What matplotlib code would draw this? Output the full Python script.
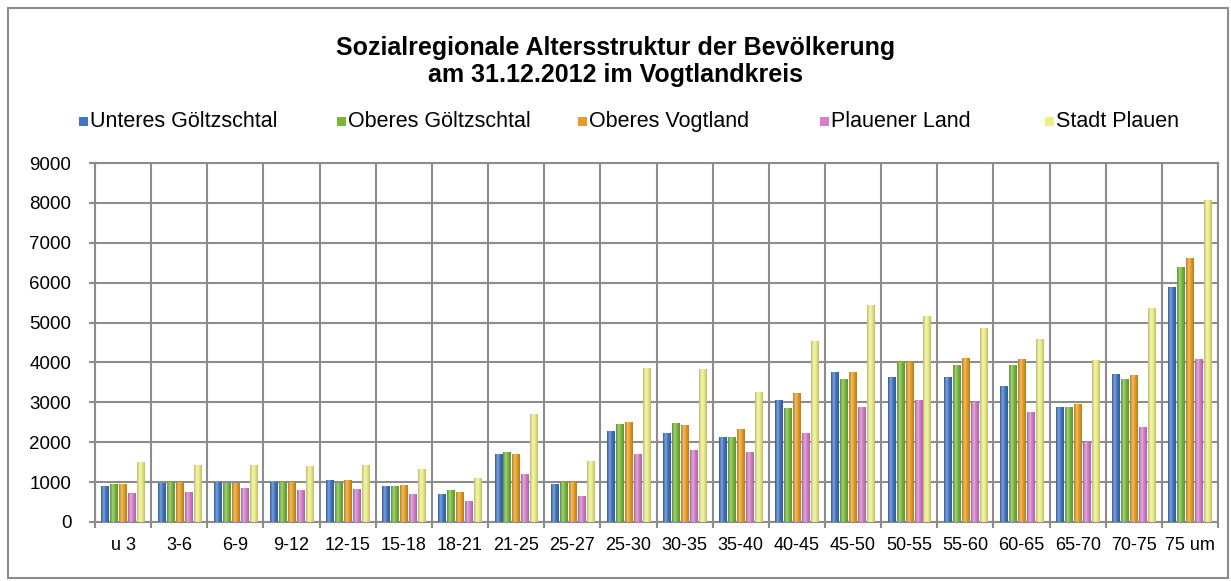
import numpy as np
import matplotlib
matplotlib.use("Agg")
import matplotlib.pyplot as plt
from matplotlib.patches import Rectangle
from matplotlib.colors import to_rgb, LinearSegmentedColormap

plt.rcParams['font.family'] = ['Liberation Sans', 'DejaVu Sans']

# Altersgruppen
groups = ["u 3", "3-6", "6-9", "9-12", "12-15", "15-18", "18-21", "21-25", "25-27",
          "25-30", "30-35", "35-40", "40-45", "45-50", "50-55", "55-60", "60-65",
          "65-70", "70-75", "75 um"]

# Regionen
regions = ["Unteres Göltzschtal", "Oberes Göltzschtal", "Oberes Vogtland",
           "Plauener Land", "Stadt Plauen"]

unteres_goeltzschtal = [900, 960, 980, 990, 1050, 900, 700, 1700, 930, 2270,
                        2210, 2130, 3040, 3740, 3630, 3630, 3400, 2880, 3710, 5890]
oberes_goeltzschtal = [930, 1000, 960, 990, 960, 900, 800, 1730, 1000, 2440,
                       2460, 2130, 2840, 3560, 3990, 3920, 3920, 2880, 3570, 6380]
oberes_vogtland = [930, 990, 960, 1000, 1050, 920, 750, 1690, 1000, 2500,
                   2420, 2310, 3230, 3760, 3990, 4100, 4070, 2940, 3670, 6610]
plauener_land = [720, 750, 840, 790, 810, 680, 520, 1180, 640, 1680,
                 1790, 1740, 2210, 2860, 3040, 2990, 2740, 2000, 2380, 4080]
stadt_plauen = [1480, 1420, 1420, 1390, 1420, 1310, 1100, 2690, 1520, 3860,
                3820, 3250, 4520, 5440, 5160, 4840, 4570, 4050, 5350, 8070]

series = [unteres_goeltzschtal, oberes_goeltzschtal, oberes_vogtland,
          plauener_land, stadt_plauen]
colors = ["#3f75c2", "#77b83c", "#e79d22", "#d67ec9", "#eeee88"]
GRID = "#8c8c8c"


def cylinder_cmap(col):
    # dark edge -> light highlight -> dark edge, like the Excel 3D bars
    c = np.array(to_rgb(col))
    dark = c * 0.8
    light = c + (1 - c) * 0.35
    return LinearSegmentedColormap.from_list(
        "cyl", [(0, dark), (0.35, light), (0.6, c), (1, dark)])


fig = plt.figure(figsize=(12.31, 5.81), dpi=100)
fig.patch.set_facecolor("white")

# outer chart border
fig.patches.append(Rectangle((8 / 1231, 3 / 581), 1220 / 1231, 570 / 581,
                             transform=fig.transFigure, fill=False,
                             edgecolor=GRID, linewidth=1.5))

ax = fig.add_axes([95 / 1231, 1 - 522 / 581, 1123 / 1231, 359 / 581])

x = np.arange(len(groups))
step = 0.16
width = 0.13
grad = np.linspace(0, 1, 32).reshape(1, -1)
for i, (vals, col, name) in enumerate(zip(series, colors, regions)):
    bars = ax.bar(x + (i - 2) * step, vals, width=width, color=col, label=name,
                  zorder=3, edgecolor="none")
    cm = cylinder_cmap(col)
    for b in bars:
        x0, h, w = b.get_x(), b.get_height(), b.get_width()
        ax.imshow(grad, cmap=cm, extent=[x0, x0 + w, 0, h], aspect="auto",
                  zorder=4, interpolation="bilinear")

ax.set_xlim(-0.5, len(groups) - 0.5)
ax.set_ylim(0, 9000)
ax.set_yticks(np.arange(0, 9001, 1000))
ax.set_xticks(x)
ax.set_xticklabels(groups)
ax.set_xticks(np.arange(-0.5, len(groups), 1), minor=True)
ax.grid(True, axis="y", color=GRID, linewidth=1.5, zorder=0)
ax.grid(True, axis="x", which="minor", color=GRID, linewidth=1.5, zorder=0)
ax.tick_params(axis="x", which="major", length=0, labelsize=13, pad=11)
ax.tick_params(axis="x", which="minor", length=4, color=GRID, width=1.5)
ax.tick_params(axis="y", length=4, color=GRID, width=1.5, labelsize=13.5, pad=13)
for sp in ax.spines.values():
    sp.set_color(GRID)
    sp.set_linewidth(1.5)

fig.text(0.5, 1 - 48 / 581, "Sozialregionale Altersstruktur der Bevölkerung",
         ha="center", va="center", fontsize=18, fontweight="bold")
fig.text(0.5, 1 - 75 / 581, "am 31.12.2012 im Vogtlandkreis",
         ha="center", va="center", fontsize=18, fontweight="bold")

# legend entries
legend_x = [79, 337, 578, 820, 1045]
for lx, name, col in zip(legend_x, regions, colors):
    fig.patches.append(Rectangle((lx / 1231, 1 - 126 / 581), 9 / 1231, 9 / 581,
                                 transform=fig.transFigure, facecolor=col,
                                 edgecolor="none"))
    fig.text((lx + 11) / 1231, 1 - 121 / 581, name, ha="left", va="center",
             fontsize=15.5)

fig.savefig("out.png", dpi=100)
